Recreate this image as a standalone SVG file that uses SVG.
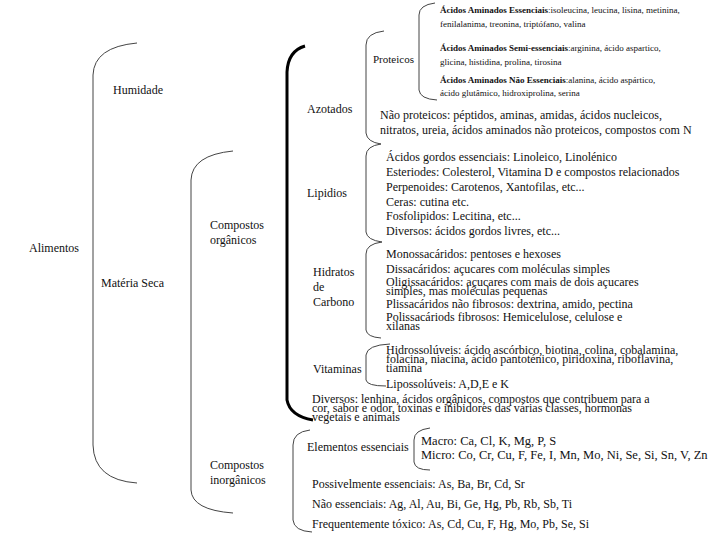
<svg xmlns="http://www.w3.org/2000/svg" width="720" height="540" viewBox="0 0 720 540">
<style>
text{font-family:"Liberation Serif","Times New Roman",serif;fill:#111;font-size:12px}
.s{font-size:9px}
.b{font-weight:bold}
.m{font-size:12.5px}
.br{fill:none;stroke:#444;stroke-width:1}
.thick{fill:none;stroke:#000;stroke-width:3}
</style>
<rect width="720" height="540" fill="#fff"/>
<g id="connectors">
<path class="br" d="M137,43 Q94,47 93,75 L93,445 Q94,480 137,483"/>
<path class="br" d="M233,151 Q192,155 191,180 L191,490 Q192,510 233,513"/>
<path class="thick" d="M305,46 Q288,51 287,72 L287,400 Q290,416 313,420"/>
<path class="br" d="M384,31 Q366,33 366,45 L366,133 Q367,142 381,144"/>
<path class="br" d="M435,3 Q419,5 419,15 L419,90 Q420,99 437,100"/>
<path class="br" d="M381,144 Q366,146 366,156 L366,232 Q367,240 382,242"/>
<path class="br" d="M382,242 Q366,244 366,254 L366,330 Q367,337 381,338"/>
<path class="br" d="M390,344 Q367,345 366,355 L366,380 Q367,386 386,386"/>
<path class="br" d="M310,430 Q293,432 293,445 L293,520 Q294,531 312,532"/>
<path class="br" d="M430,428 Q414,430 414,440 L414,462 Q415,470 430,470"/>
</g>
<g id="alimentos"><text x="29" y="252">Alimentos</text></g>
<g id="humidade"><text x="113" y="94">Humidade</text></g>
<g id="materia-seca"><text x="101" y="287">Matéria Seca</text></g>
<g id="compostos-organicos"><text x="210" y="229">Compostos</text><text x="210" y="244">orgânicos</text></g>
<g id="compostos-inorganicos"><text x="210" y="469">Compostos</text><text x="210" y="484">inorgânicos</text></g>
<g id="azotados"><text x="307" y="113">Azotados</text></g>
<g id="proteicos"><text x="373" y="63" style="font-size:11px">Proteicos</text></g>
<g id="aa-essenciais">
<text class="s" x="440" y="13"><tspan class="b">Ácidos Aminados Essenciais</tspan>:isoleucina, leucina, lisina, metinina,</text>
<text class="s" x="440" y="27">fenilalanima, treonina, triptófano, valina</text>
</g>
<g id="aa-semi">
<text class="s" x="440" y="51"><tspan class="b">Ácidos Aminados Semi-essenciais</tspan>:arginina, ácido aspartico,</text>
<text class="s" x="440" y="65">glicina, histidina, prolina, tirosina</text>
</g>
<g id="aa-nao">
<text class="s" x="440" y="83"><tspan class="b">Ácidos Aminados Não Essenciais</tspan>:alanina, ácido aspártico,</text>
<text class="s" x="440" y="96">ácido glutâmico, hidroxiprolina, serina</text>
</g>
<g id="nao-proteicos">
<text x="380" y="119">Não proteicos: péptidos, aminas, amidas, ácidos nucleicos,</text>
<text x="380" y="134">nitratos, ureia, ácidos aminados não proteicos, compostos com N</text>
</g>
<g id="lipidios"><text x="307" y="197">Lipidios</text></g>
<g id="lipidios-lista">
<text x="386" y="161">Ácidos gordos essenciais: Linoleico, Linolénico</text>
<text x="386" y="176">Esteriodes: Colesterol, Vitamina D e compostos relacionados</text>
<text x="386" y="191">Perpenoides: Carotenos, Xantofilas, etc...</text>
<text x="386" y="206">Ceras: cutina etc.</text>
<text x="386" y="220">Fosfolipidos: Lecitina, etc...</text>
<text x="386" y="235">Diversos: ácidos gordos livres, etc...</text>
</g>
<g id="hidratos"><text x="313" y="276">Hidratos</text><text x="313" y="291">de</text><text x="313" y="306">Carbono</text></g>
<g id="hidratos-lista">
<text x="386" y="258">Monossacáridos: pentoses e hexoses</text>
<text x="386" y="273">Dissacáridos: açucares com moléculas simples</text>
<text x="386" y="286">Oligissacáridos: açucares com mais de dois açucares</text>
<text x="386" y="295">simples, mas  moléculas pequenas</text>
<text x="386" y="308">Plissacáridos não fibrosos: dextrina, amido, pectina</text>
<text x="386" y="321">Polissacáriods fibrosos: Hemicelulose, celulose e</text>
<text x="386" y="330">xilanas</text>
</g>
<g id="vitaminas"><text x="313" y="373">Vitaminas</text></g>
<g id="vitaminas-lista">
<text x="386" y="354">Hidrossolúveis: ácido ascórbico, biotina, colina, cobalamina,</text>
<text x="386" y="363">folacina, niacina, ácido pantoténico, piridoxina, riboflavina,</text>
<text x="386" y="372">tiamina</text>
<text x="386" y="388">Lipossolúveis: A,D,E e K</text>
</g>
<g id="diversos">
<text x="312" y="403">Diversos: lenhina, ácidos orgânicos, compostos que contribuem para a</text>
<text x="312" y="412">cor, sabor e odor, toxinas e inibidores das várias classes, hormonas</text>
<text x="312" y="421">vegetais e animais</text>
</g>
<g id="elementos-essenciais"><text x="307" y="451">Elementos essenciais</text></g>
<g id="macro-micro">
<text class="m" x="421" y="445">Macro: Ca, Cl, K, Mg, P, S</text>
<text class="m" x="421" y="459">Micro: Co, Cr, Cu, F, Fe, I, Mn, Mo, Ni, Se, Si, Sn, V, Zn</text>
</g>
<g id="possivelmente"><text x="312" y="488">Possivelmente essenciais: As, Ba, Br, Cd, Sr</text></g>
<g id="nao-essenciais"><text x="312" y="508">Não essenciais: Ag, Al, Au, Bi, Ge, Hg, Pb, Rb, Sb, Ti</text></g>
<g id="toxico"><text x="312" y="528">Frequentemente tóxico: As, Cd, Cu, F, Hg, Mo, Pb, Se, Si</text></g>
</svg>
